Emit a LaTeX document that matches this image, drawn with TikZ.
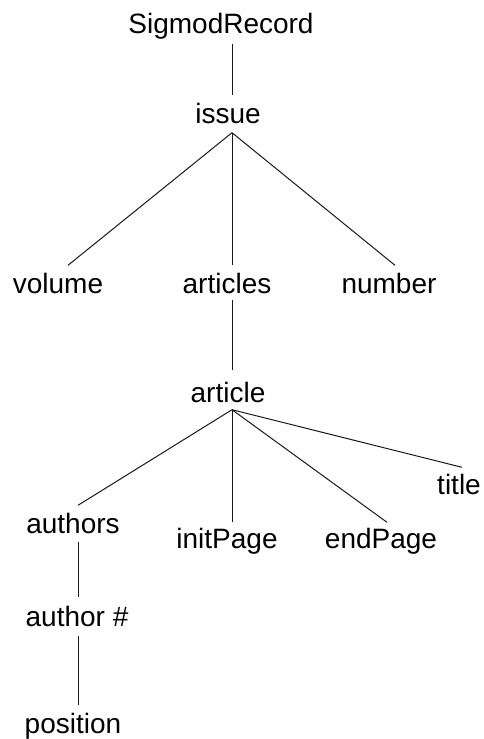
\documentclass[tikz,border=0pt]{standalone}
\usepackage{fontspec}
\setmainfont{Liberation Sans}
\begin{document}
\begin{tikzpicture}[x=1pt,y=-1pt,
  lbl/.style={anchor=base,inner sep=3.5pt,text height=21pt,text depth=6pt,font=\fontsize{28}{32}\selectfont},
  edge/.style={line width=1pt,draw=black!90}]
\useasboundingbox (0,0) rectangle (483,739);
\node[lbl] (sr) at (221,33) {SigmodRecord};
\node[lbl] (issue) at (228,123) {issue};
\node[lbl] (volume) at (58,293) {volume};
\node[lbl] (articles) at (227,293) {articles};
\node[lbl] (number) at (389,293) {number};
\node[lbl] (article) at (228,402) {article};
\node[lbl] (title) at (459,494) {title};
\node[lbl] (authors) at (73,533) {authors};
\node[lbl] (initpage) at (227,548) {initPage};
\node[lbl] (endpage) at (381,548) {endPage};
\node[lbl] (author) at (77,626) {author \#};
\node[lbl] (position) at (73,733) {position};
\draw[edge] ([xshift=11pt,yshift=-1pt]sr.south) -- ([xshift=4pt,yshift=3pt]issue.north);
\draw[edge] ([xshift=4pt]issue.south) -- ([xshift=10pt,yshift=3pt]volume.north);
\draw[edge] ([xshift=4pt]issue.south) -- ([xshift=5pt,yshift=3pt]articles.north);
\draw[edge] ([xshift=4pt]issue.south) -- ([xshift=6pt,yshift=3pt]number.north);
\draw[edge] ([xshift=5pt,yshift=3pt]articles.south) -- ([xshift=4pt,yshift=7pt]article.north);
\draw[edge] ([xshift=4pt,yshift=2pt]article.south) -- ([xshift=5pt,yshift=3pt]authors.north);
\draw[edge] ([xshift=4pt,yshift=2pt]article.south) -- ([xshift=5pt,yshift=1pt]initpage.north);
\draw[edge] ([xshift=4pt,yshift=2pt]article.south) -- ([xshift=6pt,yshift=1pt]endpage.north);
\draw[edge] ([xshift=4pt,yshift=2pt]article.south) -- ([xshift=3pt,yshift=2pt]title.north);
\draw[edge] ([xshift=5pt,yshift=1pt]authors.south) -- ([xshift=1pt,yshift=4pt]author.north);
\draw[edge] ([xshift=1pt]author.south) -- ([xshift=5pt,yshift=3pt]position.north);
\end{tikzpicture}
\end{document}
